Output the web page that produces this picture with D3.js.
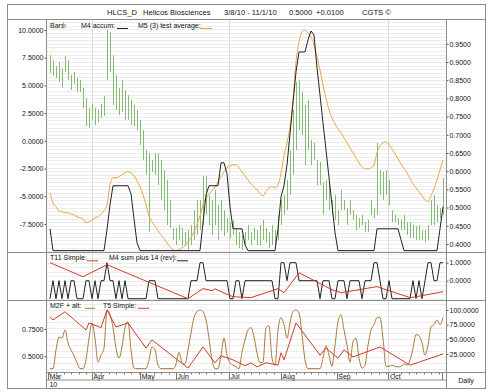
<!DOCTYPE html>
<html>
<head>
<meta charset="utf-8">
<script src="https://cdn.jsdelivr.net/npm/d3@7"></script>
<style>
  body { margin: 0; background: #fff; }
  text { font-family: "Liberation Sans", Arial, Helvetica, sans-serif; fill: #111; }
</style>
</head>
<body>
<div id="chart"></div>
<script>
// ---- data (one entry per bar, index 0 = 3/8/10) ----
const months = ["Mar", "Apr", "May", "Jun", "Jul", "Aug", "Sep", "Oct"];
const monthIdx = [-0.7, 14, 30, 42, 59.7, 77, 95.6, 112.8];
const gridMonths = ["Apr", "Jul", "Oct"];

const barHigh = [
  .919,.905,.889,.900,.883,.916,.905,.864,.873,.856,
  .851,.829,.801,.774,.785,.774,.768,.785,.807,.988,
  .982,.919,.864,.829,.851,.823,.809,.796,.782,.768,
  .741,.713,.658,.650,.631,.650,.650,.631,.603,.576,
  .521,.444,.444,.452,.444,.433,.438,.452,.493,.521,
  .521,.587,.587,.535,.521,.548,.507,.521,.493,.471,
  .460,.466,.444,.433,.425,.433,.452,.433,.444,.438,
  .452,.466,.444,.433,.452,.438,.480,.521,.535,.576,
  .658,.768,.845,.851,.818,.782,.796,.686,.678,.631,
  .625,.570,.576,.570,.521,.535,.493,.548,.521,.499,
  .521,.493,.480,.471,.480,.460,.466,.521,.499,.678,
  .603,.598,.603,.576,.493,.480,.471,.466,.480,.460,
  .460,.452,.449,.452,.438,.438,.452,.521,.535,.507,
  .499,.581
];
const barLow = [
  .870,.862,.856,.845,.829,.873,.851,.823,.840,.818,
  .818,.774,.724,.719,.741,.727,.735,.746,.752,.851,
  .873,.782,.768,.754,.763,.741,.741,.727,.724,.713,
  .672,.631,.590,.433,.598,.590,.562,.521,.493,.452,
  .444,.411,.397,.411,.395,.395,.384,.397,.411,.425,
  .438,.452,.480,.452,.425,.452,.411,.438,.422,.433,
  .416,.425,.397,.389,.384,.397,.411,.397,.411,.397,
  .397,.411,.405,.389,.397,.397,.411,.452,.480,.493,
  .535,.590,.658,.713,.699,.617,.658,.617,.631,.562,
  .562,.480,.521,.493,.480,.466,.452,.493,.493,.452,
  .480,.466,.438,.444,.452,.433,.433,.480,.471,.480,
  .535,.521,.535,.507,.460,.460,.452,.438,.438,.425,
  .416,.416,.411,.411,.411,.405,.411,.452,.452,.460,
  .471,.480
];
const m5Average = [
  -4.68,-5.59,-5.95,-6.31,-6.40,-6.49,-6.49,-6.58,-6.67,-6.85,
  -6.94,-7.03,-7.39,-7.30,-7.12,-6.94,-6.85,-6.58,-6.31,-5.77,
  -3.96,-3.33,-3.33,-3.24,-3.06,-2.88,-2.79,-2.88,-3.15,-3.60,
  -4.14,-4.86,-5.77,-6.76,-7.30,-7.66,-8.11,-8.47,-8.83,-9.19,
  -9.55,-9.82,-9.91,-9.82,-9.64,-9.46,-9.10,-8.74,-8.20,-7.57,
  -6.76,-5.77,-5.14,-4.77,-4.50,-4.14,-3.69,-3.24,-2.79,-2.43,
  -2.25,-2.16,-2.16,-2.43,-2.79,-3.15,-3.51,-3.87,-4.14,-4.41,
  -4.77,-4.95,-4.59,-4.23,-4.14,-4.23,-3.96,-2.97,-1.35,-0.18,
  1.26,3.69,7.12,8.92,9.82,10.0,9.73,9.37,8.65,7.57,
  6.40,5.05,3.87,2.79,2.07,1.53,1.08,0.72,0.27,-0.18,
  -0.63,-1.08,-1.53,-1.98,-2.34,-2.52,-2.52,-2.43,-2.16,-1.08,
  -0.45,-0.18,-0.09,-0.36,-0.72,-1.17,-1.62,-2.07,-2.52,-2.88,
  -3.42,-3.87,-4.23,-4.59,-4.95,-5.32,-5.50,-4.95,-4.32,-3.51,
  -2.61,-1.71
];
const m4Accum = [
  -7.93,-9.9,-9.9,-9.9,-9.9,-9.9,-9.9,-9.9,-9.9,-9.9,
  -9.9,-9.9,-9.9,-9.9,-9.9,-9.9,-9.9,-9.9,-9.9,-8.0,
  -5.77,-4.05,-4.05,-4.05,-4.05,-4.05,-4.05,-4.77,-7.03,-9.19,
  -9.9,-9.9,-9.9,-9.9,-9.9,-9.9,-9.9,-9.9,-9.9,-9.9,
  -9.9,-9.9,-9.9,-9.9,-9.9,-9.9,-9.9,-9.9,-9.9,-9.9,
  -9.9,-7.39,-4.86,-4.05,-4.05,-4.05,-4.05,-1.98,-1.98,-2.97,
  -5.95,-7.93,-7.93,-7.93,-7.93,-9.37,-9.9,-9.9,-9.9,-9.9,
  -9.9,-9.9,-9.9,-9.9,-9.9,-9.9,-7.93,-5.05,-4.05,-2.16,
  0.63,3.42,6.22,8.02,8.02,8.02,9.1,9.91,9.55,6.58,
  4.14,1.62,-0.81,-3.33,-5.77,-8.29,-9.9,-9.9,-9.9,-9.9,
  -9.9,-9.9,-9.9,-9.9,-9.9,-9.9,-9.9,-9.9,-9.9,-7.93,
  -7.93,-7.93,-7.93,-7.93,-7.93,-7.93,-7.93,-8.92,-9.9,-9.9,
  -9.9,-9.9,-9.9,-9.9,-9.9,-9.9,-9.9,-9.9,-9.9,-9.9,
  -7.93,-5.95
];
const m4SumRev = [
  -1,0,-1,0,-1,0,-1,0,0,-1,
  -1,-1,0,0,-1,0,-1,0,0,1,
  0,0,-1,0,-1,0,-1,-1,-1,-1,
  -1,-1,-1,0,0,0,-1,-1,-1,-1,
  -1,-1,-1,-1,-1,-1,-1,0,0,0,
  1,1,0,0,0,0,0,0,0,0,
  -1,-1,0,0,-1,0,0,0,0,0,
  0,0,0,0,0,-1,-1,1,1,0,
  1,1,1,0,0,0,0,0,0,0,
  -1,0,0,0,-1,-1,0,0,0,-1,
  0,0,0,0,-1,0,0,0,1,1,
  0,-1,-1,0,-1,-1,-1,-1,-1,-1,
  -1,0,-1,0,-1,0,1,1,0,0,
  1,1
];
const t11Idx = [0, 11, 19, 46, 51, 54, 55, 57, 61, 67, 76, 78, 83, 94, 97, 109, 120, 122, 131];
const t11Val = [1.0, 0.22, 0.89, -1.0, -0.44, -0.55, -0.45, -0.61, -0.89, -0.94, -0.44, -0.67, 0.44, -0.5, -0.67, -0.33, -0.94, -0.89, -0.61];
const m2fAlt = [
  0,0,32,54,52,66,44,32,22,10,
  0,0,15,52,78,52,11,23,35,100,
  92,70,35,18,37,70,80,32,1,0,
  0,0,0,15,37,32,6,0,0,0,
  0,0,8,28,11,8,32,61,87,97,
  100,97,83,52,15,0,0,23,52,23,
  10,6,3,0,28,49,66,70,54,27,
  10,11,70,73,18,6,66,87,75,52,
  78,97,100,95,58,15,0,0,0,0,
  0,18,39,23,4,40,80,92,66,40,
  11,46,52,18,1,6,40,66,75,87,
  87,52,4,4,6,4,3,4,8,6,
  15,35,58,56,44,23,40,71,75,83,
  75,87
];
const t5Idx = [0, 1, 5, 12, 13, 17, 19, 22, 26, 32, 34, 46, 51, 55, 57, 61, 65, 67, 69, 72, 76, 77, 78, 82, 90, 92, 96, 98, 101, 110, 120, 131];
const t5Val = [88, 83, 97, 66, 78, 70, 100, 71, 78, 35, 49, 1, 37, 10, 22, 15, 5, 10, 3, 10, 6, 27, 15, 78, 23, 35, 18, 32, 20, 37, 6, 25];

const mainLeftTicks = [10, 7.5, 5, 2.5, 0, -2.5, -5, -7.5];
const mainRightTicks = [0.95, 0.90, 0.85, 0.80, 0.75, 0.70, 0.65, 0.60, 0.55, 0.50, 0.45, 0.40];
const midRightTicks = [1, 0];
const lowLeftTicks = [0.75, 0.5];
const lowRightTicks = [100, 75, 50, 25];

// ---- layout ----
const width = 490, height = 392;
const left = 46.5, right = 446.5, outerL = 7.5, outerR = 485.5;
const top0 = 4.5, titleB = 19.5, sep1 = 252.5, sep2 = 300.5, bandT = 372.5, bandB = 380, bottom = 388.5;

const svg = d3.select("#chart").append("svg")
  .attr("width", width)
  .attr("height", height);

const x = d3.scaleLinear().domain([-1, 131]).range([47, 443]);
const yPrice = d3.scaleLinear().domain([0.40, 0.95]).range([244, 43.8]);
const yOsc = d3.scaleLinear().domain([-7.5, 10]).range([224, 30]);
const y2 = d3.scaleLinear().domain([0, 1]).range([280.7, 262.7]);
const y3 = d3.scaleLinear().domain([25, 100]).range([354, 310]);
const y3l = d3.scaleLinear().domain([0.5, 0.75]).range([356.3, 329]);

const fmt = d => d.toFixed(4);
const gridColor = "#ececec";
const frameColor = "#8c8c8c";
const barColor = "#84bb74";
const orange = "#eea246";
const black = "#222";
const red = "#d0392b";
const brown = "#a8773a";

// clip paths per panel
const defs = svg.append("defs");
[["c1", titleB, sep1], ["c2", sep1, sep2], ["c3", sep2, bandT]].forEach(([id, t, b]) => {
  defs.append("clipPath").attr("id", id)
    .append("rect").attr("x", left).attr("y", t).attr("width", right - left).attr("height", b - t);
});

// ---- gridlines ----
const grid = svg.append("g");
function hGrid(scale, values, clip) {
  grid.append("g").attr("clip-path", `url(#${clip})`)
    .selectAll("line").data(values).join("line")
    .attr("x1", left).attr("x2", right)
    .attr("y1", d => Math.round(scale(d)) + 0.5)
    .attr("y2", d => Math.round(scale(d)) + 0.5)
    .attr("stroke", gridColor);
}
hGrid(yPrice, d3.range(0.37, 1.03, 0.01), "c1");
hGrid(y2, d3.range(-1.5, 1.6, 0.25), "c2");
hGrid(y3, d3.range(-10, 115, 10), "c3");

const gridX = gridMonths.map(m => monthIdx[months.indexOf(m)]);
grid.selectAll(".vg").data(gridX).join("line")
  .attr("x1", d => Math.round(x(d)) + 0.5)
  .attr("x2", d => Math.round(x(d)) + 0.5)
  .attr("y1", titleB).attr("y2", bandT)
  .attr("stroke", "#dcdcdc");

// ---- main panel ----
const p1 = svg.append("g").attr("clip-path", "url(#c1)");
p1.selectAll(".bar").data(barHigh).join("line")
  .attr("x1", (d, i) => x(i) + 0.5)
  .attr("x2", (d, i) => x(i) + 0.5)
  .attr("y1", d => yPrice(d))
  .attr("y2", (d, i) => yPrice(barLow[i]))
  .attr("stroke", barColor)
  .attr("stroke-width", 1);

p1.append("path")
  .attr("d", d3.line().x((d, i) => x(i)).y(d => yOsc(d)).curve(d3.curveMonotoneX)(m5Average))
  .attr("fill", "none").attr("stroke", orange).attr("stroke-width", 1);
p1.append("path")
  .attr("d", d3.line().x((d, i) => x(i)).y(d => yOsc(d))(m4Accum))
  .attr("fill", "none").attr("stroke", black).attr("stroke-width", 1);

// ---- middle panel ----
const p2 = svg.append("g").attr("clip-path", "url(#c2)");
p2.append("path")
  .attr("d", d3.line().x((d, i) => x(i)).y(d => y2(d))(m4SumRev))
  .attr("fill", "none").attr("stroke", black).attr("stroke-width", 1);
p2.append("path")
  .attr("d", d3.line().x(d => x(d)).y((d, i) => y2(t11Val[i]))(t11Idx))
  .attr("fill", "none").attr("stroke", red).attr("stroke-width", 1);

// ---- lower panel ----
const p3 = svg.append("g").attr("clip-path", "url(#c3)");
p3.append("path")
  .attr("d", d3.line().x((d, i) => x(i)).y(d => y3(d)).curve(d3.curveMonotoneX)(m2fAlt))
  .attr("fill", "none").attr("stroke", brown).attr("stroke-width", 1);
p3.append("path")
  .attr("d", d3.line().x(d => x(d)).y((d, i) => y3(t5Val[i]))(t5Idx))
  .attr("fill", "none").attr("stroke", red).attr("stroke-width", 1);

// ---- axes ----
function styleAxis(g) {
  g.select(".domain").remove();
  g.selectAll("line").attr("stroke", "#555");
  g.selectAll("text").attr("font-size", 7).attr("fill", "#111")
    .style("font-family", "'Liberation Sans', Arial, sans-serif");
}
svg.append("g").attr("transform", `translate(${left},0)`)
  .call(d3.axisLeft(yOsc).tickValues(mainLeftTicks).tickFormat(fmt).tickSize(2).tickPadding(1))
  .call(styleAxis);
svg.append("g").attr("transform", `translate(${right},0)`)
  .call(d3.axisRight(yPrice).tickValues(mainRightTicks).tickFormat(fmt).tickSize(2).tickPadding(1))
  .call(styleAxis);
svg.append("g").attr("transform", `translate(${right},0)`)
  .call(d3.axisRight(y2).tickValues(midRightTicks).tickFormat(fmt).tickSize(2).tickPadding(1))
  .call(styleAxis);
svg.append("g").attr("transform", `translate(${left},0)`)
  .call(d3.axisLeft(y3l).tickValues(lowLeftTicks).tickFormat(fmt).tickSize(2).tickPadding(1))
  .call(styleAxis);
svg.append("g").attr("transform", `translate(${right},0)`)
  .call(d3.axisRight(y3).tickValues(lowRightTicks).tickFormat(fmt).tickSize(2).tickPadding(1))
  .call(styleAxis);

// time band
const band = svg.append("g");
band.selectAll(".mt").data(d3.range(-0.5, 131, 2.5)).join("line")
  .attr("x1", d => Math.round(x(d)) + 0.5).attr("x2", d => Math.round(x(d)) + 0.5)
  .attr("y1", bandT).attr("y2", bandT + 2)
  .attr("stroke", "#777");
band.selectAll(".ms").data(monthIdx).join("line")
  .attr("x1", d => Math.round(x(d)) + 0.5).attr("x2", d => Math.round(x(d)) + 0.5)
  .attr("y1", bandT).attr("y2", bandB)
  .attr("stroke", "#777");
band.selectAll(".ml").data(months).join("text")
  .attr("x", (d, i) => x(monthIdx[i]) + 1.5)
  .attr("y", 378.6)
  .attr("font-size", 7)
  .text(d => d);
band.append("text").attr("x", x(monthIdx[0]) + 1.5).attr("y", 386.6)
  .attr("font-size", 7).text("10");
band.append("line").attr("x1", 442.5).attr("x2", 442.5).attr("y1", bandT).attr("y2", bandB).attr("stroke", "#777");

// ---- frame ----
const frame = svg.append("g").attr("stroke", frameColor).attr("fill", "none");
frame.append("rect").attr("x", outerL).attr("y", top0).attr("width", outerR - outerL).attr("height", bottom - top0);
[[outerL, outerR, titleB], [outerL, outerR, sep1], [outerL, outerR, sep2], [left, outerR, bandT], [left, right, bandB]]
  .forEach(([a, b, y]) => frame.append("line").attr("x1", a).attr("x2", b).attr("y1", y).attr("y2", y));
[left, right].forEach(xx => frame.append("line").attr("x1", xx).attr("x2", xx).attr("y1", titleB).attr("y2", bottom));

svg.append("text").attr("x", 466).attr("y", 383).attr("text-anchor", "middle")
  .attr("font-size", 7).text("Daily");

// ---- title ----
const titleParts = [["HLCS_D", 107], ["Helicos Biosciences", 143], ["3/8/10 - 11/1/10", 224], ["0.5000", 289], ["+0.0100", 316], ["CGTS \u00a9", 362]];
svg.selectAll(".title").data(titleParts).join("text")
  .attr("x", d => d[1]).attr("y", 14.8)
  .attr("font-size", 7.6)
  .text(d => d[0]);

// ---- legends ----
function legend(label, lx, ly, color, sx, sw) {
  svg.append("text").attr("x", lx).attr("y", ly).attr("font-size", 7).text(label);
  if (color) {
    svg.append("line").attr("x1", sx).attr("x2", sx + sw).attr("y1", ly + 0.5).attr("y2", ly + 0.5)
      .attr("stroke", color).attr("stroke-width", 1);
  }
}
legend("Bars:", 50, 28, null);
svg.append("line").attr("x1", 63.5).attr("x2", 63.5).attr("y1", 22.5).attr("y2", 28.5).attr("stroke", barColor);
svg.append("line").attr("x1", 63.5).attr("x2", 65.5).attr("y1", 25.5).attr("y2", 25.5).attr("stroke", barColor);
legend("M4 accum:", 81, 28, black, 117, 11);
legend("M5 (3) test average:", 138, 28, orange, 200, 12);
legend("T11 Simple:", 50, 260.3, red, 87, 11);
legend("M4 sum plus 14 (rev):", 109, 260.3, black, 177, 11);
legend("M2F + alt:", 50, 307.8, brown, 85, 10);
legend("T5 Simple:", 103, 307.8, red, 138, 11);
</script>
</body>
</html>
